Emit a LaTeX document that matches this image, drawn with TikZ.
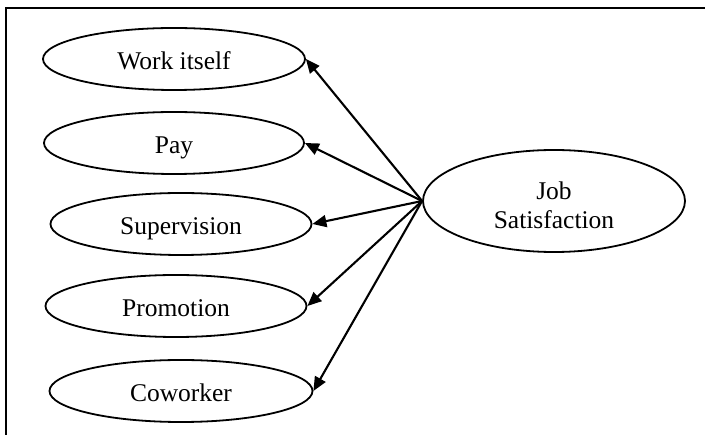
\documentclass[tikz,border=0pt]{standalone}
\usepackage{fontspec}
\setmainfont{Liberation Serif}
\usetikzlibrary{shapes.geometric,arrows.meta}
\begin{document}
\begin{tikzpicture}[x=1pt,y=-1pt,
  oval/.style={draw,ellipse,line width=1.8pt,inner sep=0pt,minimum height=62pt,
    font=\fontsize{25.5}{29.5}\selectfont,text height=21pt,text depth=0pt},
  link/.style={line width=2.1pt,-{Triangle[length=14pt,width=12pt]},shorten >=0pt}]
\useasboundingbox (0,0) rectangle (705,435);
\draw[line width=2.2pt] (6,435) -- (6,8.3) -- (705,8.3);
\node[oval,minimum width=262pt] (work) at (174,59) {Work itself};
\node[oval,minimum width=260pt] (pay) at (174,143) {Pay};
\node[oval,minimum width=261pt] (sup) at (181,224) {Supervision};
\node[oval,minimum width=261pt] (prom) at (176,306) {Promotion};
\node[oval,minimum width=263pt] (cow) at (181,391) {Coworker};
\node[oval,minimum width=262pt,minimum height=102pt,align=center,text height=56pt] (job) at (554,201) {Job\\Satisfaction};
\foreach \t in {work,pay,sup,prom,cow}
  \draw[link] (job.west) -- (\t.east);
\end{tikzpicture}
\end{document}
